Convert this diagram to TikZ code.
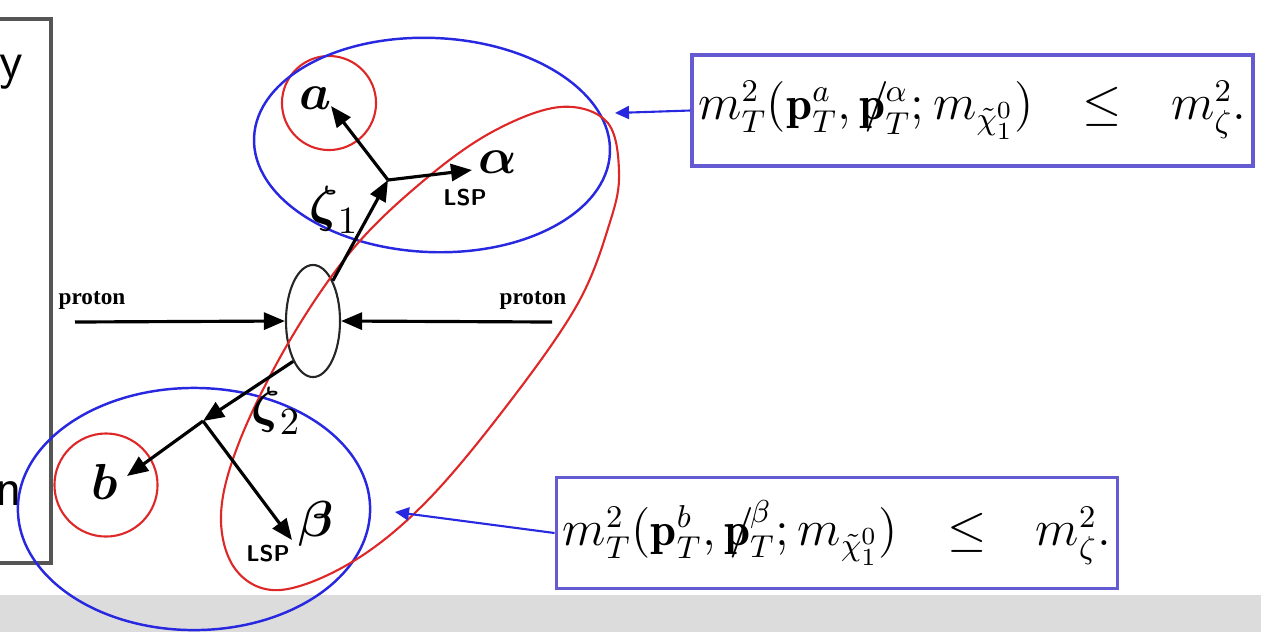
\documentclass[tikz,border=0pt]{standalone}
\usepackage{amsmath,amssymb}
\usepackage{fontspec}
\usepackage{tikz}
\usetikzlibrary{arrows.meta,shapes.geometric}
\newfontfamily\protonfont{Liberation Serif}
\definecolor{ringred}{RGB}{222,40,40}
\definecolor{ovalblue}{RGB}{40,40,225}
\definecolor{boxcol}{RGB}{100,90,210}
\definecolor{framegray}{RGB}{85,85,85}
\definecolor{bandgray}{RGB}{220,220,220}
\newcommand{\pslash}{\mathord{\ooalign{$\mathbf{p}$\cr\hidewidth$\mkern3mu/$\hidewidth\cr}}}
\tikzset{
  ring/.style     ={circle, draw=ringred, line width=0.6pt, inner sep=0pt},
  blueoval/.style ={ellipse, draw=ovalblue, line width=0.7pt, inner sep=0pt},
  vertexell/.style={ellipse, draw=black!85, line width=0.6pt, inner sep=0pt,
                    minimum width=0.54cm, minimum height=1.12cm},
  eqbox/.style    ={rectangle, draw=boxcol, line width=1pt, inner sep=0pt,
                    minimum width=5.61cm, minimum height=1.11cm,
                    font=\fontsize{13.3}{16}\selectfont},
  lbl/.style      ={font=\fontsize{15}{18}\selectfont, inner sep=0pt},
  lsplbl/.style   ={font=\fontsize{6.5}{7}\selectfont\sffamily\bfseries, inner sep=0pt},
  protonlbl/.style={font=\fontsize{6.6}{8}\selectfont\protonfont\bfseries, inner sep=0pt},
  edgetext/.style ={font=\fontsize{15}{18}\selectfont\sffamily, inner sep=0pt},
}

\begin{document}
\begin{tikzpicture}[x=0.01cm, y=-0.01cm,
    particle/.style={-{Triangle[length=2.1mm,width=1.7mm]}, line width=0.9pt},
    pointer/.style={-{Triangle[length=1.4mm,width=1.3mm]}, draw=ovalblue, line width=0.6pt}]
  \useasboundingbox (0,0) rectangle (1261,632);
  % grey band and cut frame on the left
  \fill[bandgray] (0,595) rectangle (1261,632);
  \draw[framegray, line width=0.9pt] (-20,19) -- (51,19) -- (51,563) -- (-20,563);
  \node[edgetext] (ytxt) at (11,72) {y};
  \node[edgetext] (ntxt) at (9,494) {n};

  % collision and decay vertices
  \node[vertexell] (col) at (313,321) {};
  \coordinate (v1) at (388,180);
  \coordinate (v2) at (203,421);
  \coordinate (pl) at (75,322);
  \coordinate (pr) at (552,322);
  \coordinate (atip) at (331,106);
  \coordinate (alphatip) at (472,170);
  \coordinate (btip) at (127,476);
  \coordinate (betatip) at (292,540);

  % red and blue groupings
  \node[ring, minimum size=0.94cm] (ringa) at (329,103) {};
  \node[ring, minimum size=1.03cm] (ringb) at (106,485) {};
  \node[blueoval, minimum width=3.56cm, minimum height=2.14cm, rotate=-2.5] (ovaltop) at (432,145) {};
  \node[blueoval, minimum width=3.52cm, minimum height=2.42cm] (ovalbot) at (194,509) {};
  \draw[ringred, line width=0.6pt] plot[smooth cycle, tension=0.6] coordinates {
    (560,107) (607,122) (619,172) (610,222) (577,305) (505,408) (425,503)
    (352,562) (280,590) (236,570) (221,515) (240,440) (290,340) (352,250)
    (422,182) (492,132)};

  % beams
  \draw[particle] (pl) -- (col.west);
  \draw[particle] (pr) -- (col.east);
  \node[protonlbl] (protl) at (92,300) {proton};
  \node[protonlbl] (protr) at (533,300) {proton};

  % upper decay chain
  \draw[particle] (col.north east) -- (v1);
  \draw[particle] (v1) -- (atip);
  \draw[particle] (v1) -- (alphatip);
  \node[lbl] (zeta1) at (334,210) {$\boldsymbol{\zeta}_1$};
  \node[lbl] (alab) at (316,98) {$\boldsymbol{a}$};
  \node[lbl] (alphalab) at (498,162) {$\boldsymbol{\alpha}$};
  \node[lsplbl] (lsp1) at (465,198) {LSP};

  % lower decay chain
  \draw[particle] (col.south west) -- (v2);
  \draw[particle] (v2) -- (btip);
  \draw[particle] (v2) -- (betatip);
  \node[lbl] (zeta2) at (276,411) {$\boldsymbol{\zeta}_2$};
  \node[lbl] (blab) at (105,482) {$\boldsymbol{b}$};
  \node[lbl] (betalab) at (316,524) {$\boldsymbol{\beta}$};
  \node[lsplbl] (lsp2) at (268,554) {LSP};

  % bounds
  \node[eqbox] (eqtop) at (972.5,110.5)
    {$m_T^2(\mathbf{p}_T^a,\pslash_T^{\alpha};m_{\tilde{\chi}_1^0})\hspace{0.35cm}\leq\hspace{0.35cm}m_\zeta^2.$};
  \node[eqbox] (eqbot) at (837,533)
    {$m_T^2(\mathbf{p}_T^b,\pslash_T^{\beta};m_{\tilde{\chi}_1^0})\hspace{0.35cm}\leq\hspace{0.35cm}m_\zeta^2.$};
  \coordinate (ptop) at (615,113);
  \coordinate (pbot) at (395,512);
  \draw[pointer] (eqtop.west) -- (ptop);
  \draw[pointer] (eqbot.west) -- (pbot);
\end{tikzpicture}
\end{document}
